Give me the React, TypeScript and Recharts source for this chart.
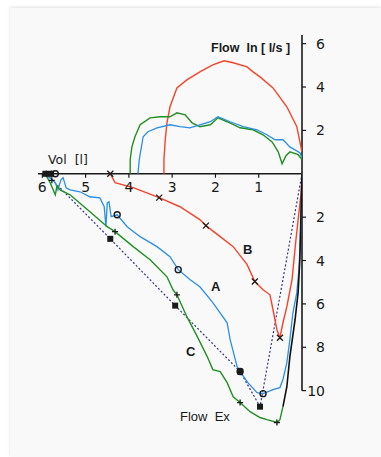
import { ComposedChart, Line, Scatter, XAxis, YAxis, ReferenceLine } from "recharts"

// [volume l, flow l/s]  -> inspiration positive, expiration negative
type Pt = [number, number]

const redIn: Pt[] = [
  [3.19, 0], [3.19, 0.65], [3.16, 1.57], [3.12, 2.35], [3.05, 3.09], [2.89, 3.96], [2.66, 4.33],
  [2.36, 4.7], [2.19, 4.88], [2.06, 5.02], [1.8, 5.21], [1.59, 5.12], [1.27, 4.93], [1.13, 4.7],
  [0.97, 4.47], [0.67, 3.96], [0.35, 3.09], [0.12, 2.17], [0, 1.0],
]
const greenIn: Pt[] = [
  [3.97, 0], [3.97, 0.65], [3.93, 1.24], [3.86, 1.71], [3.74, 2.26], [3.51, 2.58], [3.28, 2.63],
  [3.05, 2.63], [2.89, 2.81], [2.7, 2.72], [2.54, 2.35], [2.36, 2.17], [2.12, 2.26], [1.94, 2.58],
  [1.73, 2.4], [1.43, 2.12], [1.13, 2.03], [0.9, 1.8], [0.69, 1.47], [0.55, 1.01], [0.46, 0.46],
  [0.37, 0.83], [0.28, 1.01], [0.09, 0.88], [0, 0.65],
]
const blueIn: Pt[] = [
  [3.79, 0], [3.76, 0.65], [3.67, 1.71], [3.56, 1.94], [3.35, 2.12], [3.05, 2.26], [2.82, 2.17],
  [2.59, 2.12], [2.36, 2.26], [2.12, 2.4], [1.94, 2.63], [1.66, 2.4], [1.36, 2.17], [1.04, 2.03],
  [0.81, 1.8], [0.62, 1.57], [0.44, 1.57], [0.28, 1.24], [0.05, 0.97], [0, 0.74],
]

const redEx: Pt[] = [
  [4.43, 0], [4.32, -0.41], [3.9, -0.64], [3.3, -1.1], [2.82, -1.52], [2.36, -2.11], [2.22, -2.39],
  [1.89, -2.9], [1.59, -3.36], [1.27, -4.18], [1.09, -4.97], [0.9, -5.35], [0.74, -5.58],
  [0.67, -6.27], [0.58, -7.19], [0.51, -7.56], [0.44, -6.87], [0.35, -6.13], [0.23, -4.88],
  [0.14, -3.04], [0.02, -0.88], [0, 0],
]
const blueEx: Pt[] = [
  [5.89, -0.09], [5.77, -0.28], [5.7, -0.41], [5.64, -0.74], [5.57, -0.28], [5.52, -0.18],
  [5.45, -0.65], [5.36, -0.74], [5.13, -0.83], [4.9, -1.06], [4.67, -1.11], [4.57, -1.52],
  [4.53, -2.44], [4.5, -1.34], [4.46, -1.29], [4.41, -1.98], [4.27, -1.89], [4.04, -2.44],
  [3.74, -2.9], [3.35, -3.36], [3.05, -3.82], [2.86, -4.42], [2.59, -4.88], [2.36, -5.21],
  [2.06, -5.94], [1.73, -6.87], [1.66, -7.65], [1.5, -8.89], [1.43, -9.12], [1.25, -9.63],
  [1.04, -10.09], [0.9, -10.14], [0.67, -9.95], [0.51, -9.86], [0.44, -9.49], [0.35, -8.71],
  [0.28, -7.65], [0.21, -6.41], [0.12, -5.48], [0.07, -4.42], [0.02, -2.12], [0, 0],
]
const greenEx: Pt[] = [
  [5.91, -0.09], [5.82, -0.41], [5.75, -0.74], [5.7, -0.97], [5.66, -0.55], [5.59, -0.74],
  [5.36, -0.97], [4.9, -1.75], [4.5, -2.44], [4.32, -2.67], [3.9, -3.36], [3.51, -3.96],
  [3.12, -4.75], [2.98, -5.35], [2.89, -5.58], [2.66, -6.59], [2.42, -7.51], [2.19, -8.43],
  [2.06, -9.03], [1.89, -9.12], [1.73, -9.63], [1.59, -10.28], [1.43, -10.55], [1.2, -10.97],
  [0.97, -11.24], [0.81, -11.34], [0.58, -11.47], [0.51, -11.34], [0.44, -10.74],
]
const blackEx: Pt[] = [
  [0.44, -10.74], [0.35, -9.82], [0.28, -8.43], [0.16, -6.73], [0.09, -5.48], [0.05, -3.96], [0, 0],
]
const predicted: Pt[] = [
  [5.91, 0], [4.43, -3.0], [2.93, -6.08], [1.43, -9.12], [0.97, -10.74], [0, 0],
]

const redMarks: Pt[] = [[4.43, 0], [3.3, -1.1], [2.22, -2.39], [1.09, -4.97], [0.51, -7.56], [5.85, 0]]
const blueMarks: Pt[] = [[4.27, -1.89], [2.86, -4.42], [1.43, -9.12], [0.9, -10.14], [5.7, 0]]
const greenMarks: Pt[] = [[4.32, -2.67], [2.89, -5.58], [1.43, -10.55], [0.58, -11.47], [5.78, -0.3]]
const squareMarks: Pt[] = [[4.43, -3.0], [2.93, -6.08], [1.43, -9.12], [0.97, -10.74], [5.93, 0], [5.8, 0]]

const volTicks = [6, 5, 4, 3, 2, 1]
const flowTicks = [6, 4, 2, -2, -4, -6, -8, -10]

const rows = (pts: Pt[]) => pts.map(([v, f]) => ({ v, f }))

const ink = "#1a1a1a"
const numFont = "DejaVu Sans"

const Cross = ({ cx, cy }: any) => (
  <path d={`M${cx - 3},${cy - 3}L${cx + 3},${cy + 3}M${cx - 3},${cy + 3}L${cx + 3},${cy - 3}`} stroke={ink} strokeWidth={1.3} />
)
const Ring = ({ cx, cy }: any) => <circle cx={cx} cy={cy} r={3} fill="none" stroke={ink} strokeWidth={1.4} />
const Plus = ({ cx, cy }: any) => (
  <path d={`M${cx - 3},${cy}L${cx + 3},${cy}M${cx},${cy - 3}L${cx},${cy + 3}`} stroke={ink} strokeWidth={1.3} />
)
const Square = ({ cx, cy }: any) => <rect x={cx - 3} y={cy - 3} width={6} height={6} fill={ink} />

const VolTick = ({ cx, cy, payload }: any) => (
  <g>
    <line x1={cx} y1={cy} x2={cx} y2={cy + 4} stroke={ink} strokeWidth={1.2} />
    <text x={cx} y={cy + 18} textAnchor="middle" fontSize={14} fontFamily={numFont} fill={ink}>
      {payload.v}
    </text>
  </g>
)

const FlowTick = ({ x, y, payload }: any) => (
  <text x={x + 17} y={y + 5} textAnchor="end" fontSize={14} fontFamily={numFont} fill={ink}>
    {Math.abs(payload.value)}
  </text>
)

const txt = (left: number, top: number, s: string, style: any = {}) => (
  <div style={{ position: "absolute", left, top, fontSize: 13, fontFamily: "Liberation Sans", color: ink, whiteSpace: "pre", lineHeight: 1, ...style }}>
    {s}
  </div>
)

export default function App() {
  return (
    <div style={{ position: "absolute", left: 0, top: 0, width: 381, height: 457, background: "#fff", overflow: "hidden" }}>
      <div style={{ position: "absolute", left: 10, top: 8, width: 371, height: 449, background: "#f9f9f9", boxShadow: "0 -1px 3px rgba(0,0,0,0.12)" }} />
      <div style={{ position: "absolute", left: 0, top: 0 }}>
        <ComposedChart width={381} height={457} margin={{ top: 35, right: 39, bottom: 23, left: 38 }}>
          <XAxis hide type="number" dataKey="v" domain={[0, 6.1]} reversed allowDataOverflow />
          <YAxis
            type="number"
            dataKey="f"
            orientation="right"
            width={40}
            domain={[-12, 6.4]}
            allowDataOverflow
            ticks={flowTicks}
            axisLine={false}
            tickLine={{ stroke: ink, strokeWidth: 1.2 }}
            tickSize={4}
            tickMargin={2}
            tick={FlowTick}
            interval={0}
          />
          <ReferenceLine y={0} stroke={ink} strokeWidth={1.6} />
          <ReferenceLine segment={[{ x: 0, y: 6.4 }, { x: 0, y: -10 }]} stroke={ink} strokeWidth={1.6} />
          <Line data={rows(predicted)} dataKey="f" type="linear" stroke="#34348a" strokeWidth={1.2} strokeDasharray="2 2" dot={false} isAnimationActive={false} />
          <Line data={rows(redIn)} dataKey="f" type="linear" stroke="#f5442a" strokeWidth={1.4} dot={false} isAnimationActive={false} />
          <Line data={rows(greenIn)} dataKey="f" type="linear" stroke="#1f9121" strokeWidth={1.4} dot={false} isAnimationActive={false} />
          <Line data={rows(blueIn)} dataKey="f" type="linear" stroke="#2a8fe6" strokeWidth={1.3} dot={false} isAnimationActive={false} />
          <Line data={rows(redEx)} dataKey="f" type="linear" stroke="#f5442a" strokeWidth={1.4} dot={false} isAnimationActive={false} />
          <Line data={rows(blueEx)} dataKey="f" type="linear" stroke="#2a8fe6" strokeWidth={1.3} dot={false} isAnimationActive={false} />
          <Line data={rows(greenEx)} dataKey="f" type="linear" stroke="#1f9121" strokeWidth={1.4} dot={false} isAnimationActive={false} />
          <Line data={rows(blackEx)} dataKey="f" type="linear" stroke="#111" strokeWidth={1.6} dot={false} isAnimationActive={false} />
          <Scatter data={rows(redMarks)} shape={Cross} isAnimationActive={false} />
          <Scatter data={rows(blueMarks)} shape={Ring} isAnimationActive={false} />
          <Scatter data={rows(greenMarks)} shape={Plus} isAnimationActive={false} />
          <Scatter data={rows(squareMarks)} shape={Square} isAnimationActive={false} />
          <Scatter data={volTicks.map((v) => ({ v, f: 0 }))} shape={VolTick} isAnimationActive={false} />
        </ComposedChart>
      </div>
      {txt(211, 42, "Flow  In [ l/s ]", { fontWeight: 700, fontSize: 12.5 })}
      {txt(48, 154, "Vol  [l]", { fontFamily: numFont, fontSize: 12.5 })}
      {txt(180, 410, "Flow  Ex", { fontSize: 13 })}
      {txt(243, 243, "B", { fontWeight: 700, fontSize: 13 })}
      {txt(211, 280, "A", { fontWeight: 700, fontSize: 13 })}
      {txt(186, 345, "C", { fontWeight: 700, fontSize: 13 })}
    </div>
  )
}
